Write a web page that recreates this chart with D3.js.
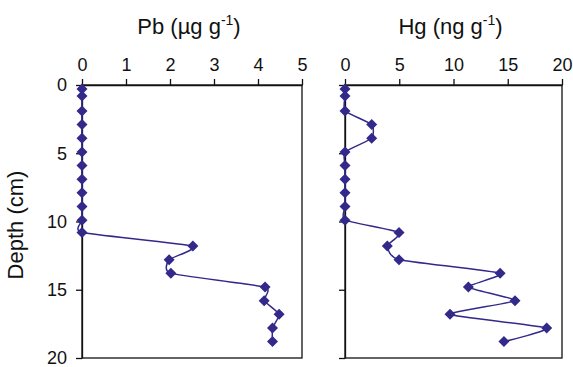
<!DOCTYPE html>
<html><head><meta charset="utf-8">
<script src="https://cdn.jsdelivr.net/npm/d3@7"></script>
<style>body{margin:0;background:#fff}svg{display:block}text{font-family:"Liberation Sans",Arial,sans-serif;fill:#111}</style>
</head><body>
<svg id="c" width="573" height="367"></svg>
<script>
const depths = [0.3,0.8,1.9,2.9,3.9,4.9,5.9,6.9,7.9,8.9,9.9,10.8,11.8,12.8,13.8,14.8,15.8,16.8,17.8,18.8];
const pbValues = [0,0,0,0,0,0,0,0,0,0,0,0,2.52,1.98,2.02,4.16,4.14,4.48,4.33,4.33];
const hgValues = [0,0,0,2.46,2.46,0,0,0,0,0,0,4.98,3.9,4.98,14.3,11.37,15.67,9.68,18.59,14.65];
const depthTicks = [0,5,10,15,20];
const pbTicks = [0,1,2,3,4,5];
const hgTicks = [0,5,10,15,20];

const svg = d3.select("#c");
const color = "#33298a";
const y = d3.scaleLinear().domain([0,20]).range([85,358]);

const panels = [
  {vals: pbValues, ticks: pbTicks, domain:[0,5], range:[82,302], title:"Pb (µg g", yLabels:true},
  {vals: hgValues, ticks: hgTicks, domain:[0,20], range:[345,562], title:"Hg (ng g", yLabels:false}
];

panels.forEach(p => {
  const x = d3.scaleLinear().domain(p.domain).range(p.range);
  const g = svg.append("g");
  g.append("rect").attr("x", p.range[0]).attr("y", y(0))
    .attr("width", p.range[1]-p.range[0]).attr("height", y(20)-y(0))
    .attr("fill","none").attr("stroke","#111").attr("stroke-width",1.3);
  const ax = g.append("g").attr("transform",`translate(0,${y(0)})`)
    .call(d3.axisTop(x).tickValues(p.ticks).tickSize(6).tickSizeOuter(0).tickPadding(8).tickFormat(d3.format("d")));
  ax.select(".domain").attr("stroke","#111").attr("stroke-width",1.3);
  ax.selectAll(".tick line").attr("stroke","#111").attr("stroke-width",1.3);
  ax.selectAll("text").style("font-size","18px").attr("fill","#111");
  const ay = g.append("g").attr("transform",`translate(${p.range[0]},0)`)
    .call(d3.axisLeft(y).tickValues(depthTicks).tickSize(6).tickSizeOuter(0).tickPadding(9)
      .tickFormat(p.yLabels ? d3.format("d") : () => ""));
  ay.select(".domain").attr("stroke","#111").attr("stroke-width",1.3);
  ay.selectAll(".tick line").attr("stroke","#111").attr("stroke-width",1.3);
  ay.selectAll("text").style("font-size","18px").attr("fill","#111");
  const t = g.append("text").attr("x",(p.range[0]+p.range[1])/2 - 3).attr("y",34)
    .attr("text-anchor","middle").style("font-size","22px");
  t.append("tspan").text(p.title);
  t.append("tspan").text("-1").attr("dy",-9).style("font-size","14px");
  t.append("tspan").text(")").attr("dy",9);
  const data = depths.map((d,i)=>({d, v:p.vals[i]}));
  const line = d3.line().x(d=>x(d.v)).y(d=>y(d.d)).curve(d3.curveCardinal.tension(0.5));
  g.append("path").datum(data).attr("d",line).attr("fill","none")
    .attr("stroke",color).attr("stroke-width",1.5);
  g.selectAll(".m").data(data).enter().append("path")
    .attr("d","M0,-5.5L5.5,0L0,5.5L-5.5,0Z")
    .attr("transform",d=>`translate(${x(d.v)},${y(d.d)})`)
    .attr("fill",color);
});

svg.append("text").attr("transform","translate(23,225) rotate(-90)")
  .attr("text-anchor","middle").style("font-size","22px").text("Depth (cm)");
</script>
</body></html>
